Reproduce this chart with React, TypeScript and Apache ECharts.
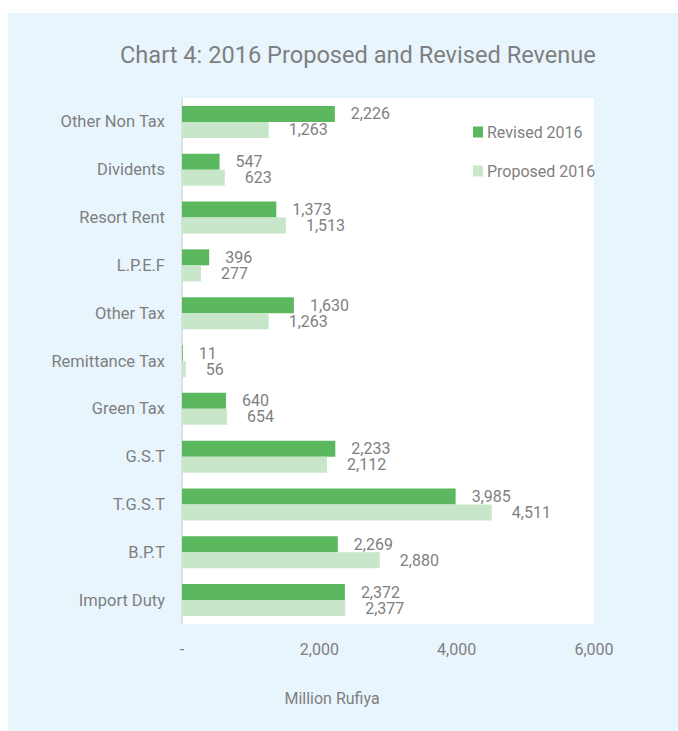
import React, { useEffect, useRef } from "react";
import * as echarts from "echarts";

const categories = [
  "Other Non Tax",
  "Dividents",
  "Resort Rent",
  "L.P.E.F",
  "Other Tax",
  "Remittance Tax",
  "Green Tax",
  "G.S.T",
  "T.G.S.T",
  "B.P.T",
  "Import Duty",
];
const revised2016 = [2226, 547, 1373, 396, 1630, 11, 640, 2233, 3985, 2269, 2372];
const proposed2016 = [1263, 623, 1513, 277, 1263, 56, 654, 2112, 4511, 2880, 2377];
const xTicks = { min: 0, max: 6000, interval: 2000 };

const GRAY = "#7f7f7f";
const FONT = "Roboto";

const fmt = (v: number) => (v === 0 ? "-" : v.toLocaleString("en-US"));

export default function App() {
  const ref = useRef<HTMLDivElement>(null);
  useEffect(() => {
    if (!ref.current) return;
    const chart = echarts.init(ref.current, undefined, { renderer: "svg" });
    chart.setOption({
      animation: false,
      backgroundColor: "#ffffff",
      textStyle: { fontFamily: FONT },
      graphic: [
        {
          type: "rect",
          z: -10,
          silent: true,
          shape: { x: 8, y: 13, width: 670, height: 718 },
          style: { fill: "#e8f5fd" },
        },
        {
          type: "text",
          x: 332,
          y: 698,
          style: {
            text: "Million Rufiya",
            fill: GRAY,
            fontSize: 16,
            fontFamily: FONT,
            align: "center",
            verticalAlign: "middle",
          },
        },
      ],
      title: {
        text: "Chart 4: 2016 Proposed and Revised Revenue",
        left: 115,
        top: 38,
        textStyle: { color: GRAY, fontSize: 23.6, fontWeight: "normal", fontFamily: FONT },
      },
      legend: {
        orient: "vertical",
        left: 468,
        top: 119,
        itemWidth: 10,
        itemHeight: 11,
        itemGap: 23,
        icon: "rect",
        data: ["Revised 2016", "Proposed 2016"],
        textStyle: { color: GRAY, fontSize: 16, fontFamily: FONT, padding: [0, 0, 0, -1] },
      },
      grid: {
        left: 182,
        top: 98,
        width: 412,
        height: 526,
        show: true,
        backgroundColor: "#ffffff",
        borderWidth: 0,
        containLabel: false,
      },
      xAxis: {
        type: "value",
        min: xTicks.min,
        max: xTicks.max,
        interval: xTicks.interval,
        axisLine: { show: false },
        axisTick: { show: false },
        splitLine: { show: false },
        axisLabel: {
          color: GRAY,
          fontSize: 16,
          fontFamily: FONT,
          margin: 17,
          formatter: (v: number) => fmt(v),
        },
      },
      yAxis: {
        type: "category",
        inverse: true,
        data: categories,
        axisLine: { show: true, lineStyle: { color: "#d9d9d9", width: 1.5 } },
        axisTick: { show: false },
        axisLabel: { color: GRAY, fontSize: 16.5, fontFamily: FONT, margin: 17 },
      },
      series: [
        {
          name: "Revised 2016",
          type: "bar",
          data: revised2016,
          barWidth: 16,
          barGap: "0%",
          itemStyle: { color: "#5cb85f" },
          label: {
            show: true,
            position: "right",
            distance: 16,
            color: GRAY,
            fontSize: 16,
            lineHeight: 14,
            fontFamily: FONT,
            formatter: (p: any) => fmt(p.value),
          },
        },
        {
          name: "Proposed 2016",
          type: "bar",
          data: proposed2016,
          barWidth: 16,
          barGap: "0%",
          itemStyle: { color: "#c8e6c9" },
          label: {
            show: true,
            position: "right",
            distance: 20,
            color: GRAY,
            fontSize: 16,
            lineHeight: 14,
            fontFamily: FONT,
            formatter: (p: any) => fmt(p.value),
          },
        },
      ],
    });
    return () => chart.dispose();
  }, []);
  return (
    <div
      ref={ref}
      style={{ position: "fixed", left: 0, top: 0, width: 678, height: 731 }}
    />
  );
}
